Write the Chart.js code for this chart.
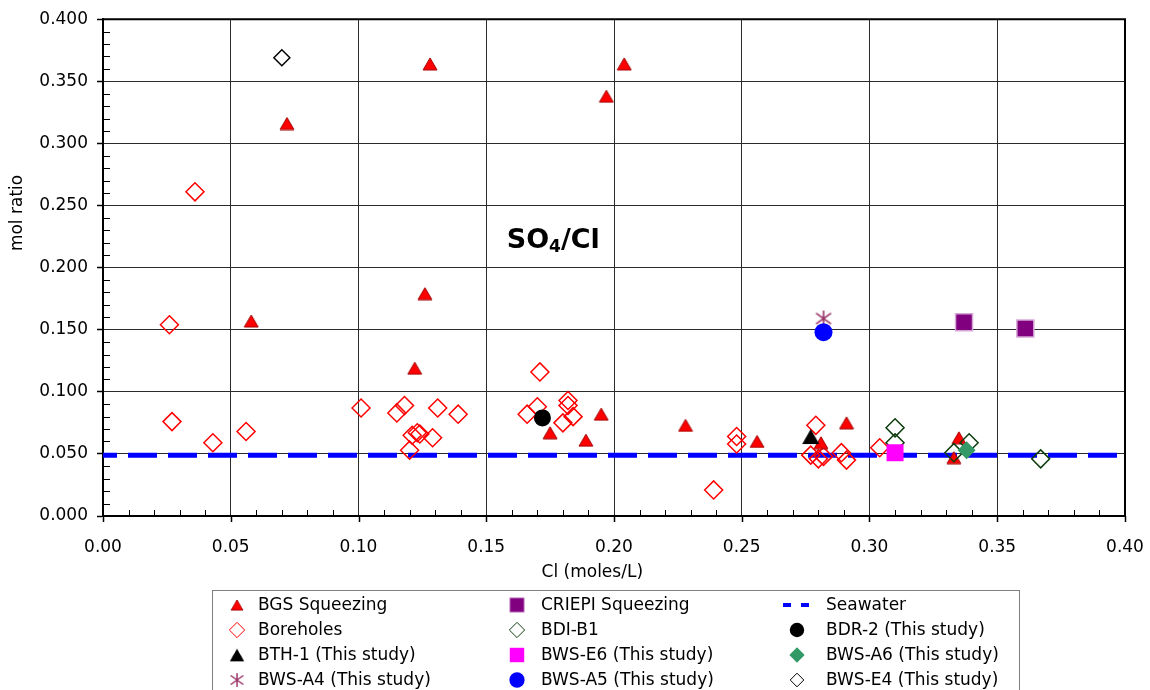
<!DOCTYPE html>
<html>
<head>
<meta charset="utf-8">
<title>SO4/Cl mol ratio</title>
<script src="https://cdn.jsdelivr.net/npm/chart.js@4.4.0/dist/chart.umd.min.js"></script>
<style>
    html, body { margin: 0; padding: 0; background: #fff; }
    #chartBox { width: 1150px; height: 690px; }
</style>
</head>
<body>
<div id="chartBox"><canvas id="ratioChart" width="1150" height="690"></canvas></div>
<script>
// Cl (moles/L) against SO4/Cl mol ratio, one pair of arrays per sample group
const bgsCl    = [0.072, 0.128, 0.204, 0.197, 0.058, 0.126, 0.122, 0.195, 0.175, 0.189, 0.228, 0.256, 0.281, 0.291, 0.335, 0.333];
const bgsRatio = [0.316, 0.364, 0.364, 0.338, 0.157, 0.179, 0.119, 0.082, 0.067, 0.061, 0.073, 0.060, 0.059, 0.075, 0.063, 0.047];

const boreholeCl    = [0.036, 0.026, 0.027, 0.043, 0.056, 0.101, 0.115, 0.118, 0.131, 0.139, 0.121, 0.123, 0.124, 0.129, 0.120,
                       0.171, 0.166, 0.170, 0.182, 0.182, 0.184, 0.180, 0.239, 0.248, 0.248, 0.279, 0.277, 0.280, 0.282, 0.289, 0.291, 0.304];
const boreholeRatio = [0.261, 0.154, 0.076, 0.059, 0.068, 0.087, 0.083, 0.089, 0.087, 0.082, 0.065, 0.067, 0.066, 0.063, 0.053,
                       0.116, 0.082, 0.088, 0.093, 0.089, 0.080, 0.075, 0.021, 0.064, 0.058, 0.073, 0.049, 0.046, 0.048, 0.051, 0.045, 0.055];

const criepiCl    = [0.337, 0.361];
const criepiRatio = [0.156, 0.151];

const bdiCl    = [0.310, 0.310, 0.333, 0.339, 0.367];
const bdiRatio = [0.071, 0.059, 0.051, 0.059, 0.046];

const bdr2Cl = [0.172],  bdr2Ratio = [0.079];
const bth1Cl = [0.277],  bth1Ratio = [0.064];
const bwsE6Cl = [0.310], bwsE6Ratio = [0.051];
const bwsA6Cl = [0.338], bwsA6Ratio = [0.053];
const bwsA4Cl = [0.282], bwsA4Ratio = [0.159];
const bwsA5Cl = [0.282], bwsA5Ratio = [0.148];
const bwsE4Cl = [0.070], bwsE4Ratio = [0.369];

// seawater reference ratio, drawn across the whole Cl range
const seawaterCl    = [0.0, 0.4];
const seawaterRatio = [0.049, 0.049];

const xTickValues = [0, 0.05, 0.10, 0.15, 0.20, 0.25, 0.30, 0.35, 0.40];
const xTickLabels = ['0.00', '0.05', '0.10', '0.15', '0.20', '0.25', '0.30', '0.35', '0.40'];
const yTickValues = [0, 0.05, 0.10, 0.15, 0.20, 0.25, 0.30, 0.35, 0.40];
const yTickLabels = ['0.000', '0.050', '0.100', '0.150', '0.200', '0.250', '0.300', '0.350', '0.400'];

const FONT = '"DejaVu Sans", Verdana, sans-serif';

function toPoints(xs, ys) {
    return xs.map((x, i) => ({ x: x, y: ys[i] }));
}

// asterisk marker: one vertical stroke crossed by two diagonals
function makeAsterisk(size, color) {
    const c = document.createElement('canvas');
    c.width = size;
    c.height = size;
    const g = c.getContext('2d');
    const m = size / 2;
    g.strokeStyle = color;
    g.lineWidth = 1.6;
    g.beginPath();
    g.moveTo(m, 1); g.lineTo(m, size - 1);
    g.moveTo(1.5, size * 0.2); g.lineTo(size - 1.5, size * 0.8);
    g.moveTo(size - 1.5, size * 0.2); g.lineTo(1.5, size * 0.8);
    g.stroke();
    return c;
}

// triangle marker centred on its bounding box
function makeTriangle(w, h, fill, stroke, lw) {
    const c = document.createElement('canvas');
    c.width = w + 2;
    c.height = h + 2;
    const g = c.getContext('2d');
    g.fillStyle = fill;
    g.strokeStyle = stroke;
    g.lineWidth = lw;
    g.beginPath();
    g.moveTo(1 + w / 2, 1);
    g.lineTo(1 + w, 1 + h);
    g.lineTo(1, 1 + h);
    g.closePath();
    g.fill();
    if (lw > 0) g.stroke();
    return c;
}

const asteriskMark = makeAsterisk(18, '#993366');
const redTriangle = makeTriangle(14, 12, '#ff0000', '#a00000', 1);
const blackTriangle = makeTriangle(17, 15, '#000000', '#000000', 0);

function marker(label, xs, ys, style, radius, fill, stroke, width, order) {
    return {
        label: label,
        data: toPoints(xs, ys),
        pointStyle: style,
        pointRadius: radius,
        pointBackgroundColor: fill,
        pointBorderColor: stroke,
        pointBorderWidth: width,
        showLine: false,
        order: order
    };
}

// datasets are listed row by row as they appear in the legend grid
const datasets = [
    marker('BGS Squeezing', bgsCl, bgsRatio, redTriangle, 8, '#ff0000', '#a00000', 1, 10),
    marker('CRIEPI Squeezing', criepiCl, criepiRatio, 'rect', 12, '#800080', '#d6a8d6', 1.5, 9),
    {
        label: 'Seawater',
        data: toPoints(seawaterCl, seawaterRatio),
        showLine: true,
        borderColor: '#0000ff',
        borderWidth: 5,
        borderDash: [29, 11],
        borderDashOffset: 15,
        pointRadius: 0,
        order: 12
    },
    marker('Boreholes', boreholeCl, boreholeRatio, 'rectRot', 9, 'rgba(0,0,0,0)', '#ff0000', 1.5, 11),
    marker('BDI-B1', bdiCl, bdiRatio, 'rectRot', 9, 'rgba(0,0,0,0)', '#0d3d0d', 1.5, 8),
    marker('BDR-2 (This study)', bdr2Cl, bdr2Ratio, 'circle', 8.5, '#000000', '#000000', 0, 6),
    marker('BTH-1 (This study)', bth1Cl, bth1Ratio, blackTriangle, 9, '#000000', '#000000', 0, 5),
    marker('BWS-E6 (This study)', bwsE6Cl, bwsE6Ratio, 'rect', 12, '#ff00ff', '#ff00ff', 0, 4),
    marker('BWS-A6 (This study)', bwsA6Cl, bwsA6Ratio, 'rectRot', 9, '#339966', '#339966', 0, 3),
    marker('BWS-A4 (This study)', bwsA4Cl, bwsA4Ratio, asteriskMark, 9, '#993366', '#993366', 0, 2),
    marker('BWS-A5 (This study)', bwsA5Cl, bwsA5Ratio, 'circle', 9, '#0000ff', '#0000ff', 0, 1),
    marker('BWS-E4 (This study)', bwsE4Cl, bwsE4Ratio, 'rectRot', 8, 'rgba(0,0,0,0)', '#000000', 1.5, 7)
];

// top/right frame, major x ticks below the axis and the small inward minor ticks
const frameAndMinorTicks = {
    id: 'frameAndMinorTicks',
    beforeDatasetsDraw(chart) {
        const { ctx, chartArea: a, scales: { x, y } } = chart;
        ctx.save();
        ctx.strokeStyle = '#000';
        ctx.lineWidth = 1;
        ctx.beginPath();
        for (let i = 1; i < 40; i++) {
            if (i % 5 === 0) continue;
            const px = Math.round(x.getPixelForValue(i / 100)) + 0.5;
            ctx.moveTo(px, a.bottom);
            ctx.lineTo(px, a.bottom - 6);
            const py = Math.round(y.getPixelForValue(i / 100)) + 0.5;
            ctx.moveTo(a.left, py);
            ctx.lineTo(a.left + 7, py);
        }
        ctx.stroke();
        ctx.lineWidth = 1.5;
        ctx.beginPath();
        xTickValues.forEach(v => {
            const px = Math.round(x.getPixelForValue(v)) + 0.5;
            ctx.moveTo(px, a.bottom);
            ctx.lineTo(px, a.bottom + 6);
        });
        ctx.stroke();
        ctx.lineWidth = 2;
        ctx.beginPath();
        ctx.moveTo(a.left, a.top);
        ctx.lineTo(a.right, a.top);
        ctx.lineTo(a.right, a.bottom);
        ctx.stroke();
        ctx.restore();
    }
};

// axis titles and the "SO4/Cl" caption
const chartTexts = {
    id: 'chartTexts',
    afterDatasetsDraw(chart) {
        const { ctx, scales: { x, y } } = chart;
        ctx.save();
        ctx.fillStyle = '#000';

        ctx.font = '17px ' + FONT;
        ctx.textAlign = 'center';
        ctx.textBaseline = 'middle';
        ctx.fillText('Cl (moles/L)', x.getPixelForValue(0.1915), 573);
        ctx.save();
        ctx.translate(18, y.getPixelForValue(0.244));
        ctx.rotate(-Math.PI / 2);
        ctx.fillText('mol ratio', 0, 0);
        ctx.restore();

        let px = x.getPixelForValue(0.158);
        const py = y.getPixelForValue(0.216);
        ctx.textBaseline = 'alphabetic';
        ctx.textAlign = 'left';
        ctx.font = 'bold 27px ' + FONT;
        ctx.fillText('SO', px, py);
        px += ctx.measureText('SO').width;
        ctx.font = 'bold 17px ' + FONT;
        ctx.fillText('4', px, py + 4);
        px += ctx.measureText('4').width;
        ctx.font = 'bold 27px ' + FONT;
        ctx.fillText('/Cl', px, py);
        ctx.restore();
    }
};

// three-column legend box under the axis
const legendGrid = {
    id: 'legendGrid',
    afterDraw(chart) {
        const ctx = chart.ctx;
        const markerX = [237, 517, 797];
        const textX = [258, 541, 826];
        const rowY = [605, 630, 655, 680];
        ctx.save();
        ctx.strokeStyle = '#808080';
        ctx.lineWidth = 1;
        ctx.strokeRect(212.5, 590.5, 807, 140);
        ctx.font = '17px ' + FONT;
        ctx.fillStyle = '#000';
        ctx.textBaseline = 'middle';
        chart.data.datasets.forEach((ds, i) => {
            const col = i % 3;
            const row = Math.floor(i / 3);
            const mx = markerX[col];
            const my = rowY[row];
            ctx.save();
            if (ds.showLine) {
                ctx.strokeStyle = ds.borderColor;
                ctx.lineWidth = 4;
                ctx.setLineDash([8, 10]);
                ctx.beginPath();
                ctx.moveTo(mx - 14, my);
                ctx.lineTo(mx + 14, my);
                ctx.stroke();
            } else if (typeof ds.pointStyle !== 'string') {
                const img = ds.pointStyle;
                const w = img.width * 0.85;
                const h = img.height * 0.85;
                ctx.drawImage(img, mx - w / 2, my - h / 2, w, h);
            } else {
                ctx.fillStyle = ds.pointBackgroundColor;
                ctx.strokeStyle = ds.pointBorderColor;
                Chart.helpers.drawPoint(ctx, {
                    pointStyle: ds.pointStyle,
                    radius: ds.pointRadius * 0.85,
                    borderWidth: ds.pointBorderWidth,
                    rotation: 0
                }, mx, my);
            }
            ctx.restore();
            ctx.fillText(ds.label, textX[col], my + 1);
        });
        ctx.restore();
    }
};

function axisOptions(values, labels, isX) {
    return {
        type: 'linear',
        min: 0,
        max: 0.4,
        afterBuildTicks: s => { s.ticks = values.map(v => ({ value: v })); },
        afterFit: s => {
            if (isX) s.height = 69; else s.width = 99;
        },
        ticks: {
            callback: (v, i) => labels[i],
            color: '#000',
            font: { family: FONT, size: 17 },
            padding: isX ? 3 : 9,
            autoSkip: false,
            maxRotation: 0
        },
        // the x tick marks are drawn by the plugin; the long tick length only spaces the labels
        grid: {
            color: '#2b2b2b',
            lineWidth: 1,
            tickLength: isX ? 18 : 6,
            tickColor: isX ? 'rgba(0,0,0,0)' : '#000',
            tickWidth: 1.5
        },
        border: { color: '#000', width: 2 },
        title: { display: false }
    };
}

new Chart(document.getElementById('ratioChart').getContext('2d'), {
    type: 'scatter',
    data: { datasets: datasets },
    options: {
        responsive: false,
        animation: false,
        events: [],
        layout: { padding: { top: 19, right: 25, bottom: 105, left: 4 } },
        plugins: {
            legend: { display: false },
            tooltip: { enabled: false }
        },
        scales: {
            x: axisOptions(xTickValues, xTickLabels, true),
            y: axisOptions(yTickValues, yTickLabels, false)
        }
    },
    plugins: [frameAndMinorTicks, chartTexts, legendGrid]
});
</script>
</body>
</html>
